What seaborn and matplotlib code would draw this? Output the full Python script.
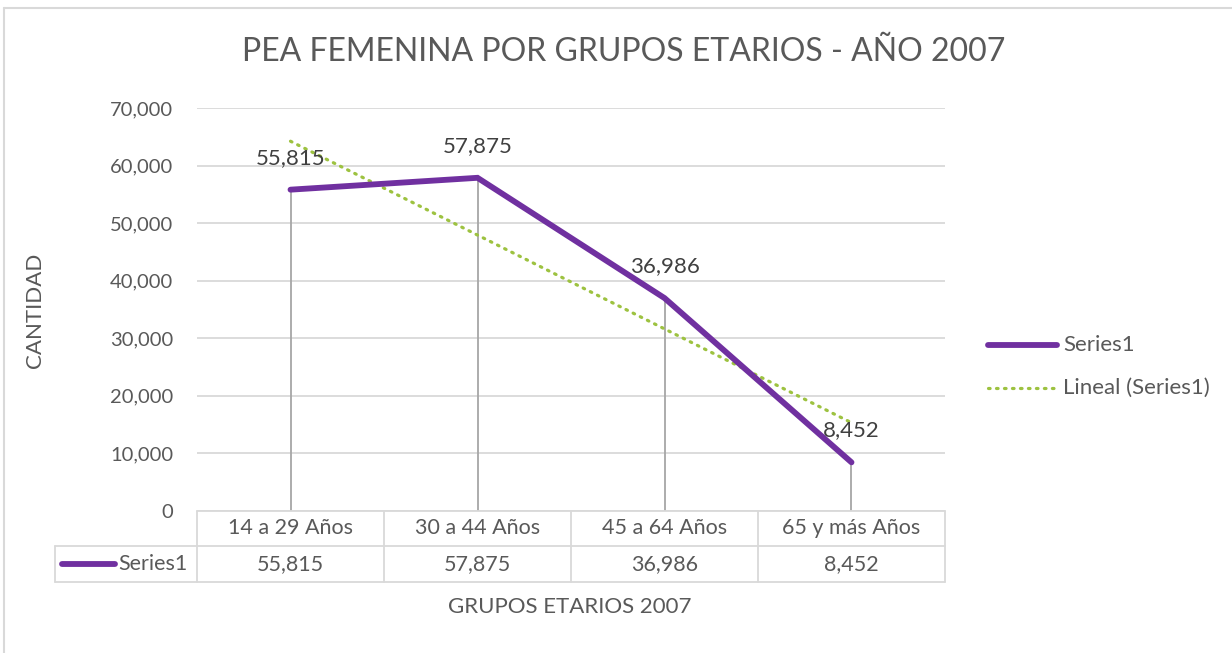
import numpy as np
import pandas as pd
import matplotlib
matplotlib.use("Agg")
import matplotlib.pyplot as plt
import seaborn as sns
from matplotlib.lines import Line2D
from matplotlib.transforms import blended_transform_factory

categories = ["14 a 29 Años", "30 a 44 Años", "45 a 64 Años", "65 y más Años"]
values = [55815, 57875, 36986, 8452]
series_name = "Series1"
trend_name = "Lineal (Series1)"
yticks = [0, 10000, 20000, 30000, 40000, 50000, 60000, 70000]
title = "PEA FEMENINA POR GRUPOS ETARIOS - AÑO 2007"
xlabel = "GRUPOS ETARIOS 2007"
ylabel = "CANTIDAD"

sns.set_theme(style="white")
plt.rcParams["font.family"] = ["Lato", "DejaVu Sans"]

PURPLE = "#7030A0"
GREEN = "#9DC240"
TXT = "#595959"
GRID = "#D9D9D9"
DROP = "#A6A6A6"
DOTS = (0, (0.5, 2.0))

W, H = 1232, 653
fig = plt.figure(figsize=(W / 100, H / 100), dpi=100)

def fx(px):
    return px / W

def fy(py):
    return 1 - py / H

left, right, top, bottom = 197, 945, 108, 511
ax = fig.add_axes([fx(left), fy(bottom), fx(right - left), (bottom - top) / H])

df = pd.DataFrame({"pos": np.arange(len(categories)), "cat": categories, "val": values})

# drop lines
ax.vlines(df["pos"], 0, df["val"], color=DROP, lw=1.3, zorder=2)

# trendline (linear fit)
xf = np.arange(1, len(values) + 1)
coef = np.polyfit(xf, values, 1)
trend = np.polyval(coef, xf)
ax.plot(df["pos"], trend, color=GREEN, lw=2.3, ls=DOTS,
        dash_capstyle="round", zorder=4)

sns.lineplot(data=df, x="pos", y="val", ax=ax, color=PURPLE, lw=4.2,
             solid_capstyle="round", solid_joinstyle="miter", zorder=5)

ax.set_xlim(-0.5, len(categories) - 0.5)
ax.set_ylim(0, 70000)
ax.set_yticks(yticks)
ax.set_yticklabels([f"{v:,}" for v in yticks], fontsize=14.5, color=TXT)
ax.set_xticks([])
ax.tick_params(axis="y", length=0, pad=17)
ax.yaxis.grid(True, color=GRID, lw=1.3)
ax.set_axisbelow(True)
for s in ax.spines.values():
    s.set_visible(False)
ax.set_xlabel("")
ax.set_ylabel("")

# data labels
for i, v in enumerate(values):
    ax.annotate(f"{v:,}", (i, v), xytext=(0, 23), textcoords="offset points",
                ha="center", va="center", fontsize=16, color="#404040", zorder=6)

# data table
trans = blended_transform_factory(ax.transData, fig.transFigure)
r0, r1, r2 = 511, 546, 582
tl = dict(color=GRID, lw=1.3, transform=fig.transFigure)
fig.add_artist(Line2D([fx(left), fx(right)], [fy(r0), fy(r0)], **tl))
fig.add_artist(Line2D([fx(55), fx(right)], [fy(r1), fy(r1)], **tl))
fig.add_artist(Line2D([fx(55), fx(right)], [fy(r2), fy(r2)], **tl))
fig.add_artist(Line2D([fx(55), fx(55)], [fy(r1), fy(r2)], **tl))
for xb in [0 - 0.5, 0.5, 1.5, 2.5, 3.5]:
    xp = ax.transData.transform((xb, 0))[0] / W
    fig.add_artist(Line2D([xp, xp], [fy(r0), fy(r2)], **tl))
for i, (c, v) in enumerate(zip(categories, values)):
    ax.text(i, fy((r0 + r1) / 2), c, transform=trans, ha="center", va="center",
            fontsize=15.5, color=TXT)
    ax.text(i, fy((r1 + r2) / 2), f"{v:,}", transform=trans, ha="center",
            va="center", fontsize=15.5, color=TXT)
fig.add_artist(Line2D([fx(62), fx(115)], [fy(564), fy(564)], color=PURPLE, lw=4.2,
                      solid_capstyle="round", transform=fig.transFigure))
fig.text(fx(118), fy(564), series_name, ha="left", va="center", fontsize=15.5, color=TXT)

# titles
fig.text(fx(624), fy(52), title, ha="center", va="center", fontsize=23, color=TXT)
fig.text(fx(570), fy(607), xlabel, ha="center", va="center", fontsize=16, color=TXT)
fig.text(fx(35), fy(310), ylabel, ha="center", va="center", rotation=90, fontsize=16,
         color=TXT)

# legend
fig.add_artist(Line2D([fx(988), fx(1057)], [fy(345), fy(345)], color=PURPLE, lw=4.2,
                      solid_capstyle="round", transform=fig.transFigure))
fig.text(fx(1063), fy(345), series_name, ha="left", va="center", fontsize=16, color=TXT)
fig.add_artist(Line2D([fx(988), fx(1057)], [fy(388), fy(388)], color=GREEN, lw=2.3,
                      ls=DOTS, dash_capstyle="round",
                      transform=fig.transFigure))
fig.text(fx(1063), fy(388), trend_name, ha="left", va="center", fontsize=16, color=TXT)

# chart border
bl = dict(color=GRID, lw=1.5, transform=fig.transFigure)
fig.add_artist(Line2D([fx(4), fx(1232)], [fy(8), fy(8)], **bl))
fig.add_artist(Line2D([fx(4), fx(4)], [fy(8), 0], **bl))

fig.savefig("out.png", dpi=100, facecolor="white")
